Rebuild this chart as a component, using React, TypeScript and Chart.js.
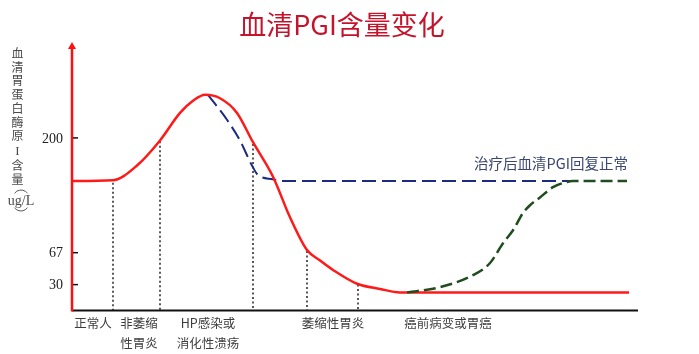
import React, { useEffect, useRef } from "react";
import { Chart, registerables } from "chart.js";

Chart.register(...registerables);

// ---------- data ----------
const chartTitle = "血清PGI含量变化";
const yLabelChars = ["血", "清", "胃", "蛋", "白", "酶", "原", "I", "含", "量"];
const yLabelCharY = [53, 67, 80, 94, 108, 122, 135, 152, 165, 179];
const yLabelUnit = "ug/L";
const yTickValues = [30, 67, 200];
const Y_MIN = 0;
const Y_MAX = 310;
const X_MIN = 0;
const X_MAX = 566;

// stage positions on the x scale and their labels
const stageX = [21, 67, 136, 261, 376];
const stageRow1 = ["正常人", "非萎缩", "HP感染或", "萎缩性胃炎", "癌前病变或胃癌"];
const stageRow2 = ["", "性胃炎", "消化性溃疡", "", ""];

// red curve: disease course
const courseX = [0, 41, 65, 88, 108, 121, 133, 148, 165, 181, 201, 218, 235, 248, 261, 285, 308, 328, 557];
const courseY = [150, 151, 168, 197, 229, 243, 250, 246, 229, 195, 155, 108, 70, 58, 47, 31, 25, 21, 21];

// blue dashed: HP eradication -> recovery
const hpTreatX = [136, 155, 168, 180, 186, 201, 208, 498];
const hpTreatY = [250, 221, 197, 168, 157, 152, 150, 150];

// green dashed: recovery after treatment of late stage
const recoverX = [335, 368, 401, 418, 431, 441, 451, 458, 468, 481, 495, 501, 555];
const recoverY = [21, 27, 41, 55, 78, 93, 113, 122, 131, 143, 149, 150, 150];

// dotted drop lines
const dropX = [41, 88, 181, 235, 286];
const dropTop = [148, 196, 193, 69, 30];

const recoveryLabel = "治疗后血清PGI回复正常";
const recoveryLabelX = 556;
const recoveryLabelY = 170;

const CJK = '"Noto Sans CJK SC", "Noto Sans", sans-serif';
const SERIF = '"Liberation Serif", "DejaVu Serif", serif';

const zip = (xs: number[], ys: number[]) => xs.map((x, i) => ({ x, y: ys[i] }));

const decorPlugin = {
  id: "decor",
  afterDatasetsDraw(chart: any) {
    const ctx = chart.ctx as CanvasRenderingContext2D;
    const xs = chart.scales.x;
    const ys = chart.scales.y;
    const x0 = xs.getPixelForValue(X_MIN);
    const x1 = xs.getPixelForValue(X_MAX);
    const y0 = ys.getPixelForValue(Y_MIN);
    const yTop = ys.getPixelForValue(Y_MAX);
    ctx.save();

    // x axis
    ctx.strokeStyle = "#111";
    ctx.lineWidth = 2;
    ctx.beginPath();
    ctx.moveTo(x0, y0);
    ctx.lineTo(x1, y0);
    ctx.stroke();

    // y axis (red, with arrow)
    ctx.strokeStyle = "#ff1010";
    ctx.fillStyle = "#ff1010";
    ctx.lineWidth = 2.5;
    ctx.beginPath();
    ctx.moveTo(x0, y0 + 1);
    ctx.lineTo(x0, yTop + 4);
    ctx.stroke();
    ctx.beginPath();
    ctx.moveTo(x0, yTop - 1);
    ctx.lineTo(x0 - 4, yTop + 6);
    ctx.lineTo(x0 + 4, yTop + 6);
    ctx.closePath();
    ctx.fill();

    // ticks + labels
    ctx.strokeStyle = "#111";
    ctx.lineWidth = 1.5;
    ctx.fillStyle = "#222";
    ctx.font = `14px ${SERIF}`;
    ctx.textAlign = "right";
    ctx.textBaseline = "middle";
    yTickValues.forEach((v) => {
      const py = ys.getPixelForValue(v);
      ctx.beginPath();
      ctx.moveTo(x0 + 1, py);
      ctx.lineTo(x0 + 6, py);
      ctx.stroke();
      ctx.fillText(String(v), x0 - 9, py + 1);
    });

    // y axis title (vertical stack)
    ctx.fillStyle = "#4a4a4a";
    ctx.textAlign = "center";
    yLabelChars.forEach((ch, i) => {
      ctx.font = ch === "I" ? `13px ${SERIF}` : `12px ${CJK}`;
      ctx.fillText(ch, 17.5, yLabelCharY[i]);
    });
    ctx.font = `14px ${SERIF}`;
    ctx.fillText(yLabelUnit, 21, 201);
    ctx.strokeStyle = "#555";
    ctx.lineWidth = 1;
    ctx.beginPath();
    ctx.arc(21, 198, 8, Math.PI * 1.2, Math.PI * 1.8);
    ctx.stroke();
    ctx.beginPath();
    ctx.arc(21, 203, 8, Math.PI * 0.2, Math.PI * 0.8);
    ctx.stroke();

    // stage labels
    ctx.fillStyle = "#3d3d3d";
    ctx.font = `12.5px ${CJK}`;
    stageX.forEach((sx, i) => {
      const px = xs.getPixelForValue(sx);
      if (stageRow1[i]) ctx.fillText(stageRow1[i], px, 323);
      if (stageRow2[i]) ctx.fillText(stageRow2[i], px, 343);
    });

    // recovery annotation
    ctx.fillStyle = "#3a4672";
    ctx.font = `14.5px ${CJK}`;
    ctx.textAlign = "right";
    ctx.fillText(recoveryLabel, xs.getPixelForValue(recoveryLabelX), ys.getPixelForValue(recoveryLabelY));

    // title
    ctx.fillStyle = "#c4142c";
    ctx.font = `27px ${CJK}`;
    ctx.textAlign = "center";
    ctx.fillText(chartTitle, 342, 25);

    ctx.restore();
  },
};

export default function App() {
  const ref = useRef<HTMLCanvasElement | null>(null);

  useEffect(() => {
    if (!ref.current) return;
    const dropSets = dropX.map((dx, i) => ({
      label: "drop" + i,
      data: zip([dx, dx], [dropTop[i], Y_MIN]),
      borderColor: "#111",
      borderWidth: 1.4,
      borderDash: [2, 2.5],
      pointRadius: 0,
      fill: false,
      tension: 0,
    }));
    const chart = new Chart(ref.current, {
      type: "line",
      data: {
        datasets: [
          {
            label: "recover",
            data: zip(recoverX, recoverY),
            borderColor: "#1f4d1f",
            borderWidth: 2.5,
            borderDash: [12, 5],
            pointRadius: 0,
            cubicInterpolationMode: "monotone",
            fill: false,
          },
          {
            label: "course",
            data: zip(courseX, courseY),
            borderColor: "#ff1a1a",
            borderWidth: 2.5,
            pointRadius: 0,
            cubicInterpolationMode: "monotone",
            fill: false,
          },
          {
            label: "hp",
            data: zip(hpTreatX, hpTreatY),
            borderColor: "#1c2a80",
            borderWidth: 2,
            borderDash: [14, 6],
            pointRadius: 0,
            cubicInterpolationMode: "monotone",
            fill: false,
          },
          ...dropSets,
        ] as any,
      },
      options: {
        responsive: false,
        animation: false,
        events: [],
        layout: { padding: { left: 72, right: 61, top: 43, bottom: 43.5 } },
        plugins: { legend: { display: false }, tooltip: { enabled: false }, title: { display: false } },
        scales: {
          x: { type: "linear", min: X_MIN, max: X_MAX, display: false },
          y: { type: "linear", min: Y_MIN, max: Y_MAX, display: false },
        },
      },
      plugins: [decorPlugin],
    });
    return () => chart.destroy();
  }, []);

  return (
    <div style={{ position: "absolute", left: 0, top: 0, width: 699, height: 354, background: "#fff" }}>
      <canvas ref={ref} width={699} height={354} style={{ display: "block", width: 699, height: 354 }} />
    </div>
  );
}
